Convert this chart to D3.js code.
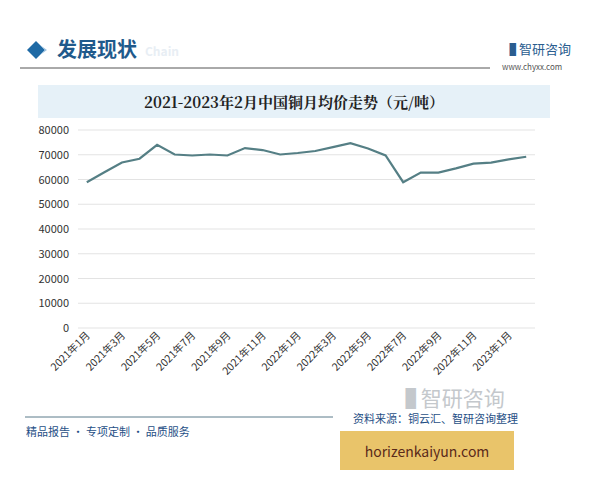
<!DOCTYPE html>
<html><head><meta charset="utf-8">
<script src="https://cdn.jsdelivr.net/npm/d3@7"></script>
<style>body{margin:0;background:#fff}text{font-family:"Noto Sans CJK SC",sans-serif}</style>
</head><body><div class="canvas"></div>
<script>
const months = ['2021年1月','2021年2月','2021年3月','2021年4月','2021年5月','2021年6月','2021年7月','2021年8月','2021年9月','2021年10月','2021年11月','2021年12月',
  '2022年1月','2022年2月','2022年3月','2022年4月','2022年5月','2022年6月','2022年7月','2022年8月','2022年9月','2022年10月','2022年11月','2022年12月',
  '2023年1月','2023年2月']
const prices = [58900,62900,66900,68400,74000,70100,69700,70100,69700,72700,71900,70100,
  70700,71500,73100,74700,72500,69700,58900,62800,62800,64500,66400,66800,68100,69200]
const yTicks = [0,10000,20000,30000,40000,50000,60000,70000,80000]

const svg = d3.select('.canvas').append('svg').attr('width',600).attr('height',480)

// header
svg.append('path').attr('d','M27,50 L36,41 L45,50 L36,59 Z').attr('fill','#1f6aa5')
svg.append('path').attr('d','M40,45 L45,50 L40,55 L47,50 Z').attr('fill','#9cc2e0')
svg.append('text').attr('x',57).attr('y',57).attr('font-size',20).attr('font-weight','bold').attr('fill','#1f5a8c').text('发展现状')
svg.append('text').attr('x',145).attr('y',56).attr('font-size',12).attr('font-weight','bold').attr('fill','#e8eef4').text('Chain')
svg.append('line').attr('x1',20).attr('x2',490).attr('y1',68).attr('y2',68).attr('stroke','#555').attr('stroke-width',1)
svg.append('text').attr('x',503).attr('y',54).attr('font-size',13).attr('fill','#2a5d8f').text('▐ 智研咨询')
svg.append('text').attr('x',502).attr('y',70).attr('font-size',8).attr('fill','#555').attr('font-family','DejaVu Serif').text('www.chyxx.com')

// title band
svg.append('rect').attr('x',38).attr('y',85).attr('width',512).attr('height',33).attr('fill','#e6f1f8')
svg.append('text').attr('x',294).attr('y',108).attr('text-anchor','middle').attr('font-size',15).attr('font-weight','bold')
  .attr('fill','#222').style('font-family','"Noto Serif CJK SC","Noto Sans CJK SC",serif').text('2021-2023年2月中国铜月均价走势（元/吨）')

const x = d3.scalePoint().domain(months).range([78,535]).padding(0.5)
const y = d3.scaleLinear().domain([0,80000]).range([328,130])

const g = svg.append('g')
g.selectAll('line.grid').data(yTicks).enter().append('line')
  .attr('x1',78).attr('x2',535).attr('y1',d=>y(d)).attr('y2',d=>y(d)).attr('stroke','#e3e3e3')
g.selectAll('text.yl').data(yTicks).enter().append('text')
  .attr('x',69).attr('y',d=>y(d)+4).attr('text-anchor','end').attr('font-size',11).attr('fill','#333').text(d=>d)

g.selectAll('text.xl').data(months.filter((d,i)=>i%2===0)).enter().append('text')
  .attr('transform',d=>`translate(${x(d)+4},${336}) rotate(-45)`).attr('text-anchor','end')
  .attr('font-size',10.5).attr('fill','#333').text(d=>d)

const line = d3.line().x((d,i)=>x(months[i])).y(d=>y(d))
g.append('path').attr('d',line(prices)).attr('fill','none').attr('stroke','#557f85').attr('stroke-width',2.2)

// footer
svg.append('text').attr('x',395).attr('y',406).attr('font-size',21).attr('fill','#c4c8cc').text('▐ 智研咨询')
svg.append('line').attr('x1',25).attr('x2',333).attr('y1',417).attr('y2',417).attr('stroke','#5a7a8a').attr('stroke-width',1)
svg.append('text').attr('x',353).attr('y',423).attr('font-size',11).attr('fill','#1f4f86').text('资料来源：铜云汇、智研咨询整理')
svg.append('text').attr('x',26).attr('y',436).attr('font-size',11).attr('fill','#1f4f86').text('精品报告 · 专项定制 · 品质服务')
svg.append('rect').attr('x',340).attr('y',431).attr('width',174).attr('height',39).attr('fill','#e9c46a')
svg.append('text').attr('x',427).attr('y',457).attr('text-anchor','middle').attr('font-size',14).attr('fill','#5a2a1a').text('horizenkaiyun.com')
</script></body></html>
